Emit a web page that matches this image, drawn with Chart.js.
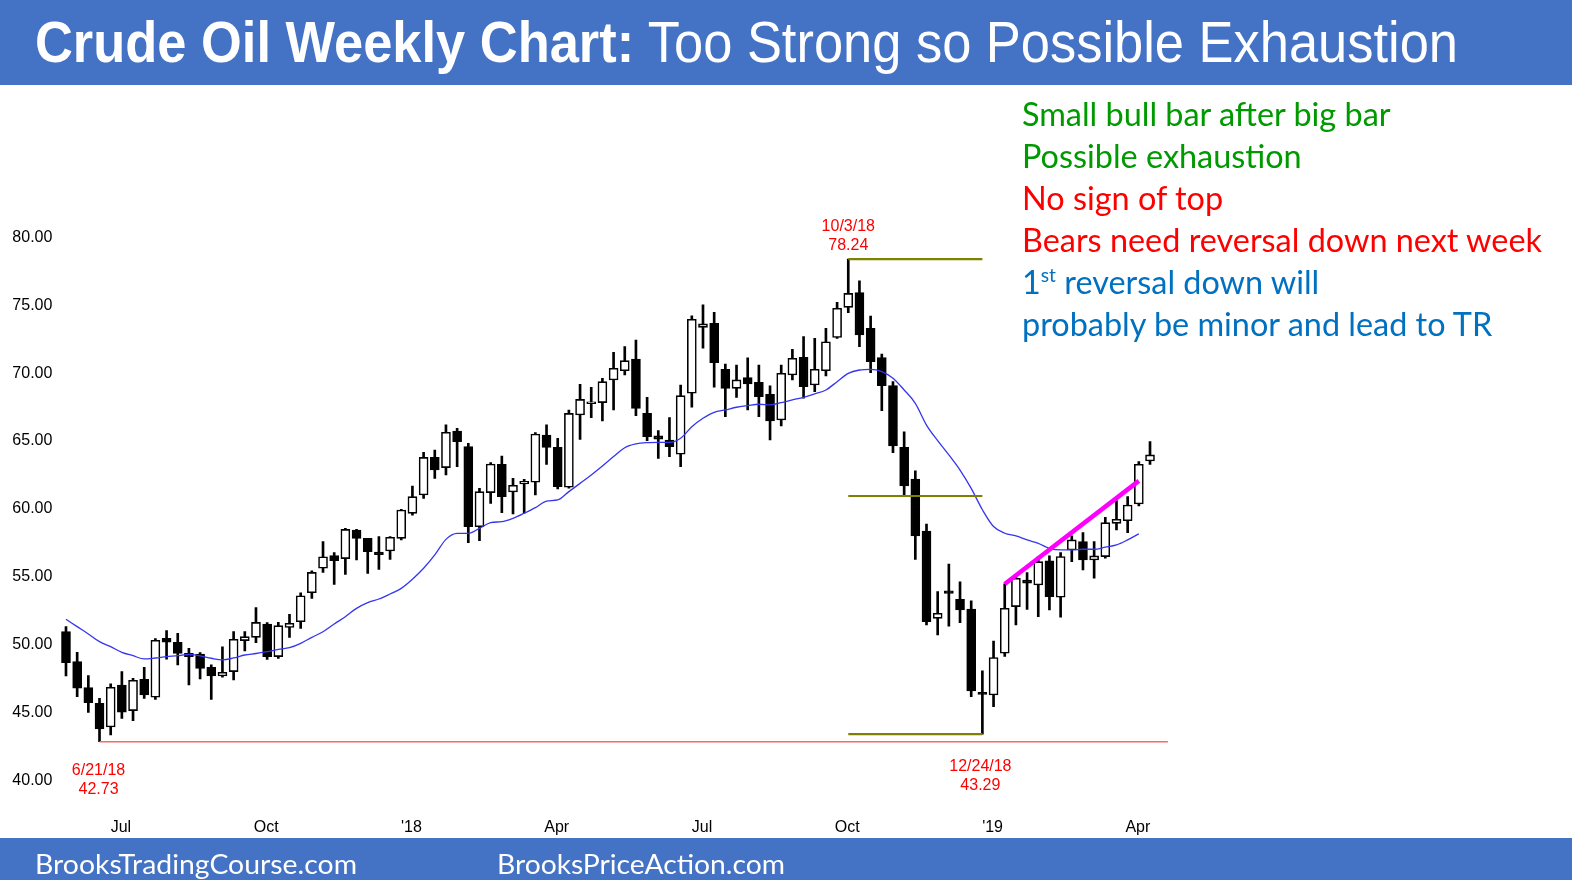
<!DOCTYPE html>
<html><head><meta charset="utf-8">
<script src="https://cdn.jsdelivr.net/npm/chart.js@4.4.1/dist/chart.umd.min.js"></script>
<style>
html,body{margin:0;padding:0;background:#fff;width:1572px;height:880px;overflow:hidden;}
#wrap{position:relative;width:1572px;height:880px;}
.band{position:absolute;left:0;width:1572px;background:#4472C4;}
canvas{position:absolute;left:0;top:0;}
.t{position:absolute;white-space:nowrap;z-index:5;}
#title{left:35px;top:0;height:85px;line-height:85px;font-family:'Liberation Sans',Arial,sans-serif;font-size:57px;color:#fff;transform-origin:0 50%;}
#title b{font-weight:bold;}
.foot{top:841px;line-height:45px;font-family:Lato,sans-serif;font-size:27px;color:#fff;transform-origin:0 50%;}
#notes{left:1022px;top:93px;font-family:Lato,sans-serif;font-size:32px;line-height:42px;transform-origin:0 0;}
#notes div{white-space:nowrap;}
#notes sup{font-size:19px;vertical-align:12px;line-height:0;}
.g{color:#009900}.r{color:#FF0000}.b{color:#0070C0}
</style></head>
<body><div id="wrap">
<div class="band" style="top:0;height:85px"></div>
<div class="band" style="top:838px;height:42px"></div>
<canvas id="c" width="1572" height="880"></canvas>
<div class="t" id="title"><b>Crude Oil Weekly Chart:</b> Too Strong so Possible Exhaustion</div>
<div class="t foot" id="f1" style="left:35px">BrooksTradingCourse.com</div>
<div class="t foot" id="f2" style="left:497px">BrooksPriceAction.com</div>
<div class="t" id="notes">
<div class="g">Small bull bar after big bar</div>
<div class="g">Possible exhaustion</div>
<div class="r">No sign of top</div>
<div class="r" id="widest">Bears need reversal down next week</div>
<div class="b">1<sup>st</sup> reversal down will</div>
<div class="b">probably be minor and lead to TR</div>
</div>
</div>
<script>
// ---- data (weekly bars, first week starting 2017-05-29) ----
const firstWeek = '2017-05-29';
const opens = [50.83,48.62,46.71,45.56,43.81,46.90,45.02,47.32,46.00,50.34,50.05,49.23,49.18,48.20,47.57,47.89,50.17,50.41,51.39,48.99,
51.14,51.56,53.69,55.49,56.42,56.20,58.31,57.69,56.69,56.76,57.69,59.53,60.88,63.65,62.90,65.59,64.44,58.55,61.06,63.14,
61.11,61.69,61.82,65.30,64.39,61.45,66.77,67.60,67.68,69.35,70.03,70.89,66.89,65.23,64.93,63.88,68.37,73.22,73.52,70.13,
68.73,69.52,69.18,68.29,66.40,69.72,71.02,68.98,70.03,72.48,74.69,75.77,73.15,70.99,68.93,64.39,62.06,58.23,51.81,53.84,
53.20,52.49,46.36,46.17,49.24,52.67,54.63,54.26,56.03,53.36,56.84,57.45,56.10,56.35,58.80,58.99,60.22,63.39];
const highs = [51.20,49.31,47.59,45.92,46.98,47.89,47.40,48.20,50.31,50.90,50.71,49.60,49.28,48.38,49.72,50.83,50.83,52.59,51.50,51.51,
52.10,53.69,55.31,57.45,56.64,58.43,58.35,57.69,57.82,57.82,59.83,61.54,64.02,64.19,66.04,65.79,64.69,61.38,63.26,63.75,
62.11,62.04,65.47,66.04,65.05,67.14,69.03,68.81,69.47,71.38,71.80,72.29,68.07,65.62,66.58,68.98,74.06,74.87,74.33,70.52,
70.45,70.97,70.45,68.91,70.45,71.60,72.54,72.41,73.15,75.06,78.24,76.65,74.05,71.26,69.22,65.54,62.67,58.75,53.77,55.80,
54.50,53.10,47.95,50.14,54.34,54.88,55.17,56.35,56.40,56.64,57.87,58.12,57.45,59.24,60.47,60.76,63.34,64.81];
const lows = [47.57,46.05,44.89,42.73,43.23,44.45,44.28,45.92,45.85,48.80,48.38,46.90,47.35,45.85,47.47,47.27,49.41,50.02,48.79,48.86,
50.41,51.07,53.28,55.19,54.31,55.04,56.10,55.12,55.41,56.15,57.57,59.39,60.64,62.11,62.36,62.97,57.38,57.52,60.27,59.58,
59.49,59.54,60.88,63.14,61.33,61.38,64.98,66.57,66.33,67.14,69.71,66.72,64.88,63.58,63.71,62.97,67.34,71.68,68.81,66.65,
68.07,67.14,66.65,64.93,65.96,69.35,68.00,68.49,69.64,72.40,74.30,71.80,69.88,67.09,64.00,60.88,56.15,51.32,50.58,51.24,
51.49,46.04,43.29,45.31,49.00,51.32,52.47,51.93,52.42,51.89,55.98,55.37,54.76,56.23,58.31,58.12,60.08,63.14];
const closes = [48.55,46.66,45.61,43.67,46.73,44.90,47.25,46.17,50.19,50.05,49.23,48.99,48.13,47.57,47.84,50.27,50.46,51.51,48.99,51.27,
51.44,53.47,55.19,56.34,56.05,58.35,57.69,56.71,56.49,57.77,59.78,60.76,63.65,62.72,65.50,64.81,58.55,61.13,63.16,60.76,
61.60,61.89,65.37,64.39,61.50,66.89,67.92,67.70,69.22,70.21,70.77,67.26,65.18,65.00,64.44,68.19,73.81,73.47,70.62,68.73,
69.35,69.05,68.12,66.33,69.84,70.94,68.86,70.13,72.16,74.62,75.72,72.66,70.69,68.93,64.49,61.55,57.87,51.56,52.18,53.65,
52.42,46.46,46.20,48.92,52.55,54.76,54.39,55.98,53.41,56.35,57.58,56.10,56.40,58.85,59.10,60.15,63.14,63.83];
const ma20 = [51.74,51.20,50.66,50.09,49.72,49.31,49.06,48.82,48.89,48.99,49.06,49.16,49.04,48.87,48.75,48.89,49.11,49.22,49.35,49.52,
49.65,49.97,50.41,50.82,51.39,51.93,52.54,52.96,53.23,53.60,54.01,54.68,55.49,56.47,57.62,58.06,58.06,58.43,58.85,58.92,
59.17,59.54,59.95,60.44,60.52,61.13,61.74,62.36,63.02,63.71,64.36,64.64,64.74,64.76,64.76,65.06,65.91,66.53,66.97,67.14,
67.34,67.46,67.56,67.51,67.68,67.88,68.07,68.32,68.61,69.22,69.83,70.08,70.13,69.96,69.47,68.61,67.63,66.03,64.88,63.83,
62.72,61.37,59.80,58.56,58.07,57.87,57.58,57.33,56.96,56.84,56.84,56.89,56.89,57.04,57.21,57.58,58.02,null];
const tickIndex = [5,18,31,44,57,70,83,96];
const tickLabels = ['Jul','Oct',"'18",'Apr','Jul','Oct',"'19",'Apr'];
const yTicks = [40,45,50,55,60,65,70,75,80];
// annotations (index, value)
const swingHigh = {i:70, v:78.24, date:'10/3/18'};
const swingLow1 = {i:3, v:42.73, date:'6/21/18'};
const swingLow2 = {i:82, v:43.29, date:'12/24/18'};
const midLevel = 60.81;
const trendLine = [[84,54.34],[96,61.92]];

// categories: week start dates
const weeks = [];
{ const d0 = new Date(firstWeek+'T00:00:00Z');
  for (let k=0;k<opens.length;k++){ const d=new Date(d0.getTime()+k*7*86400000); weeks.push(d.toISOString().slice(0,10)); } }

// ---- text fitting ----
function fitW(el,w){ const r=el.getBoundingClientRect().width; el.style.transform='scaleX('+(w/r)+')'; }
fitW(document.getElementById('title'),1423);
fitW(document.getElementById('f1'),322);
fitW(document.getElementById('f2'),288);
{ const n=document.getElementById('notes'); const wd=document.getElementById('widest');
  const sp=document.createElement('span'); sp.textContent=wd.textContent; sp.style.whiteSpace='nowrap'; wd.textContent=''; wd.appendChild(sp);
  const r=sp.getBoundingClientRect().width; n.style.transform='scaleX('+(520/r)+')'; }

// ---- chart ----
const LEFT=60.4, RIGHT=1155.6, TOP=200, BOTTOM=800, XH=40;
const PXU=13.59;
const yMin = 40 - (BOTTOM-778.8)/PXU, yMax = 80 + (235.2-TOP)/PXU;

const annot = {
  id:'annot',
  afterDatasetsDraw(chart){
    const {ctx, scales:{x,y}} = chart;
    ctx.save();
    const hl=(i0,i1,v,col,w)=>{ctx.strokeStyle=col;ctx.lineWidth=w;ctx.beginPath();ctx.moveTo(x.getPixelForValue(i0),y.getPixelForValue(v));ctx.lineTo(x.getPixelForValue(i1),y.getPixelForValue(v));ctx.stroke();};
    hl(swingLow1.i, 98.6, swingLow1.v, '#FF6666', 1.5);
    hl(swingHigh.i, swingLow2.i, swingHigh.v, '#808000', 2.2);
    hl(swingHigh.i, swingLow2.i, midLevel, '#808000', 2.2);
    hl(swingHigh.i, swingLow2.i, swingLow2.v, '#808000', 2.2);
    ctx.strokeStyle='#FF00FF'; ctx.lineWidth=4.5; ctx.lineCap='butt';
    ctx.beginPath();
    ctx.moveTo(x.getPixelForValue(trendLine[0][0]), y.getPixelForValue(trendLine[0][1]));
    ctx.lineTo(x.getPixelForValue(trendLine[1][0]), y.getPixelForValue(trendLine[1][1]));
    ctx.stroke();
    ctx.fillStyle='#FF0000'; ctx.font='16px "Liberation Sans", Arial, sans-serif';
    ctx.textAlign='center'; ctx.textBaseline='middle';
    let px=x.getPixelForValue(swingHigh.i), py=y.getPixelForValue(swingHigh.v);
    ctx.fillText(swingHigh.date, px, py-33); ctx.fillText(swingHigh.v.toFixed(2), px, py-14);
    px=x.getPixelForValue(swingLow1.i); py=y.getPixelForValue(swingLow1.v);
    ctx.fillText(swingLow1.date, px-1, py+29); ctx.fillText(swingLow1.v.toFixed(2), px-1, py+48);
    px=x.getPixelForValue(swingLow2.i); py=y.getPixelForValue(swingLow2.v);
    ctx.fillText(swingLow2.date, px-2, py+33); ctx.fillText(swingLow2.v.toFixed(2), px-2, py+52);
    ctx.restore();
  }
};

Chart.defaults.font.family='"Liberation Sans", Arial, sans-serif';
Chart.defaults.font.size=16;
Chart.defaults.color='#000';

new Chart(document.getElementById('c'),{
  type:'bar',
  data:{
    labels:weeks,
    datasets:[
      {type:'line', label:'MA', data:ma20, borderColor:'#3535F0', borderWidth:1.3, pointRadius:0, tension:0.35, cubicInterpolationMode:'monotone', order:0, spanGaps:false},
      {label:'body', data:opens.map((o,k)=>[o,closes[k]]), backgroundColor:opens.map((o,k)=>closes[k]>=o?'#FFFFFF':'#000000'),
        borderColor:'#000', borderWidth:1.6, borderSkipped:false, barThickness:9, minBarLength:2, grouped:false, order:1},
      {label:'wick', data:lows.map((l,k)=>[l,highs[k]]), backgroundColor:'#000', borderWidth:0, barThickness:2, grouped:false, order:2}
    ]
  },
  options:{
    responsive:false, animation:false, devicePixelRatio:1,
    layout:{padding:{left:0,right:1572-RIGHT,top:TOP,bottom:880-BOTTOM-XH}},
    plugins:{legend:{display:false},tooltip:{enabled:false}},
    scales:{
      x:{type:'category', offset:true, grid:{display:false,drawTicks:false}, border:{display:false},
         afterFit:s=>{s.height=XH;},
         ticks:{autoSkip:false,maxRotation:0,minRotation:0,padding:18,labelOffset:-1,
           callback:(v,idx)=>{const p=tickIndex.indexOf(idx);return p>=0?tickLabels[p]:'';}}},
      y:{type:'linear', min:yMin, max:yMax, beginAtZero:false, grid:{display:false,drawTicks:false}, border:{display:false},
         afterFit:s=>{s.width=LEFT;},
         afterBuildTicks:s=>{s.ticks=yTicks.map(v=>({value:v}));},
         ticks:{padding:8, labelOffset:2, callback:v=>Number(v).toFixed(2)}}
    }
  },
  plugins:[annot]
});
</script>
</body></html>
